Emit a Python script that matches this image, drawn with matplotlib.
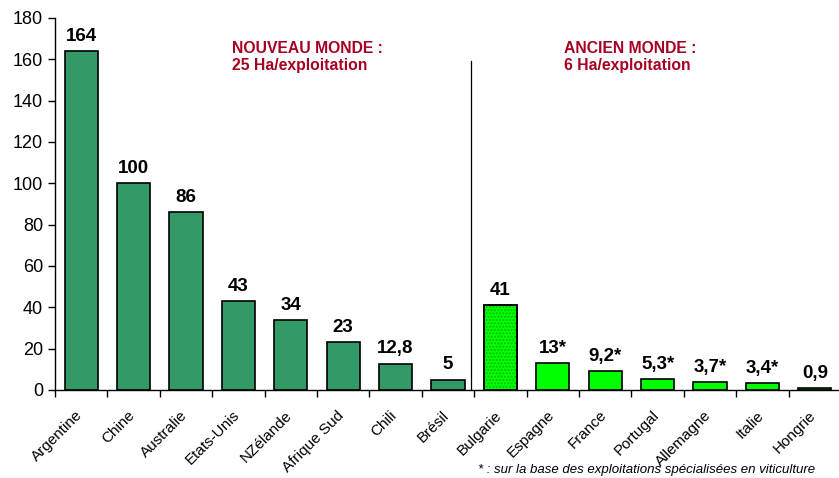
import matplotlib.pyplot as plt
import matplotlib.transforms as mtransforms
import numpy as np

# Data
pays = ['Argentine', 'Chine', 'Australie', 'Etats-Unis', 'NZélande', 'Afrique Sud',
        'Chili', 'Brésil', 'Bulgarie', 'Espagne', 'France', 'Portugal',
        'Allemagne', 'Italie', 'Hongrie']
surface = [164, 100, 86, 43, 34, 23, 12.8, 5, 41, 13, 9.2, 5.3, 3.7, 3.4, 0.9]
etiquettes = ['164', '100', '86', '43', '34', '23', '12,8', '5', '41', '13*',
              '9,2*', '5,3*', '3,7*', '3,4*', '0,9']
nouveau_monde = 8  # the first 8 countries

plt.rcParams['font.family'] = ['Liberation Sans', 'DejaVu Sans']

fig = plt.figure(figsize=(8.39, 4.78), dpi=100)
ax = fig.add_axes([55 / 839, 88 / 478, 786 / 839, 372 / 478])

x = np.arange(len(pays))
dark = '#339966'
light = '#00ff00'
colors = [dark] * nouveau_monde + [light] * (len(pays) - nouveau_monde)

ax.bar(x, surface, width=0.63, color=colors, edgecolor='black', linewidth=1.2, zorder=2)
# dotted fill on Bulgarie
ax.bar(x[8], surface[8], width=0.63, color='none', edgecolor='#00bb00',
       hatch='.....', linewidth=0, zorder=3)
ax.bar(x[8], surface[8], width=0.63, color='none', edgecolor='black',
       linewidth=1.2, zorder=4)

for xi, v, lab in zip(x, surface, etiquettes):
    ax.text(xi, v + 3, lab, ha='center', va='bottom', fontsize=13.5, fontweight='bold')

# separator between the two worlds
ax.plot([7.44, 7.44], [0, 159], color='black', linewidth=0.9, zorder=1)

red = '#a50021'
ax.text(2.88, 161, 'NOUVEAU MONDE :\n25 Ha/exploitation', color=red, fontsize=11.3,
        fontweight='bold', va='center', ha='left', linespacing=1.15)
ax.text(9.21, 161, 'ANCIEN MONDE :\n6 Ha/exploitation', color=red, fontsize=11.3,
        fontweight='bold', va='center', ha='left', linespacing=1.15)

ax.set_xlim(-0.5, len(pays) - 0.5)
ax.set_ylim(0, 180)
ax.set_yticks(np.arange(0, 181, 20))
ax.tick_params(axis='y', labelsize=13, length=5, width=1)

ax.set_xticks(x)
ax.set_xticklabels(pays, rotation=45, ha='right', rotation_mode='anchor', fontsize=11)
ax.tick_params(axis='x', length=0, pad=13)
shift = mtransforms.ScaledTranslation(-6 / 100, 0, fig.dpi_scale_trans)
for lbl in ax.get_xticklabels():
    lbl.set_transform(lbl.get_transform() + shift)
ax.set_xticks(np.arange(-0.5, len(pays), 1), minor=True)
ax.tick_params(axis='x', which='minor', length=5, width=1)

for s in ['top', 'right']:
    ax.spines[s].set_visible(False)
ax.spines['left'].set_linewidth(1)
ax.spines['bottom'].set_linewidth(1)

fig.text(815 / 839, 2 / 478, '* : sur la base des exploitations spécialisées en viticulture',
         fontsize=9.5, style='italic', ha='right', va='bottom')

plt.savefig('out.png', dpi=100)
